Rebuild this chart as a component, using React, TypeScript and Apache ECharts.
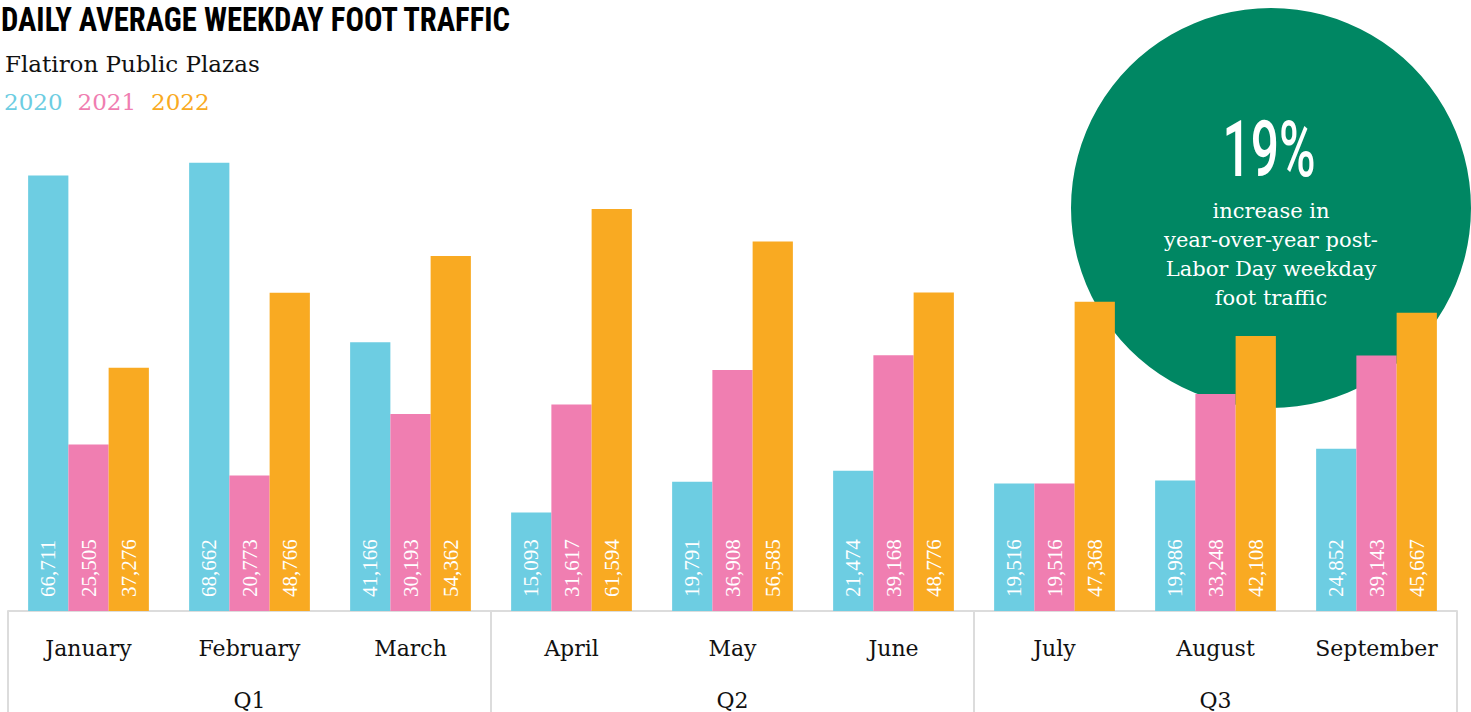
import React, { useEffect, useRef } from 'react';
import * as echarts from 'echarts';

const months = ['January', 'February', 'March', 'April', 'May', 'June', 'July', 'August', 'September'];
const quarters = ['Q1', 'Q2', 'Q3'];
const years = ['2020', '2021', '2022'];
const values2020 = [66711, 68662, 41166, 15093, 19791, 21474, 19516, 19986, 24852];
const values2021 = [25505, 20773, 30193, 31617, 36908, 39168, 19516, 33248, 39143];
const values2022 = [37276, 48766, 54362, 61594, 56585, 48776, 47368, 42108, 45667];
const seriesValues = [values2020, values2021, values2022];
const yearColors = ['#6DCDE2', '#F07EB1', '#F9AA22'];
const yMax = 70000;

const titleText = 'DAILY AVERAGE WEEKDAY FOOT TRAFFIC';
const subtitleText = 'Flatiron Public Plazas';
const bigStat = '19%';
const statText = 'increase in\nyear-over-year post-\nLabor Day weekday\nfoot traffic';

const SERIF = '"DejaVu Serif", serif';
const LABEL_SERIF = '"Liberation Serif", serif';
const NARROW = '"Liberation Sans Narrow", "Roboto Condensed", Roboto, sans-serif';

function measure(text: string, font: string): number {
  const ctx = document.createElement('canvas').getContext('2d');
  if (!ctx) return 1;
  ctx.font = font;
  return ctx.measureText(text).width || 1;
}

export default function App() {
  const ref = useRef<HTMLDivElement>(null);

  useEffect(() => {
    if (!ref.current) return;
    const chart = echarts.init(ref.current, undefined, { renderer: 'svg' });

    const titleFont = `bold 34px ${NARROW}`;
    const titleScale = 511 / measure(titleText, titleFont);
    const statFont = '500 78px Roboto';
    const statScale = 93 / measure(bigStat, statFont);

    const fmt = (n: number) => n.toLocaleString('en-US');

    chart.setOption({
      animation: false,
      grid: { left: 8, right: 14, top: 154, bottom: 101, containLabel: false },
      legend: {
        left: -1,
        top: 90,
        padding: 0,
        itemWidth: 0,
        itemHeight: 0,
        itemGap: 10,
        selectedMode: false,
        textStyle: { fontFamily: SERIF, fontSize: 23, padding: 0 },
        data: years.map((y, i) => ({ name: y, icon: 'rect', textStyle: { color: yearColors[i] } })),
      },
      xAxis: [
        {
          type: 'category',
          data: months,
          axisLine: { show: true, lineStyle: { color: '#dcdcdc', width: 2 } },
          axisTick: { show: false },
          axisLabel: { margin: 26, fontFamily: SERIF, fontSize: 22, color: '#111' },
        },
        {
          type: 'category',
          data: quarters,
          position: 'bottom',
          axisLine: { show: false },
          axisTick: { show: true, length: 120, lineStyle: { color: '#dcdcdc', width: 2 } },
          axisLabel: { margin: 78, fontFamily: SERIF, fontSize: 22, color: '#111' },
        },
      ],
      yAxis: { type: 'value', min: 0, max: yMax, show: false },
      series: years.map((y, i) => ({
        name: y,
        type: 'bar',
        xAxisIndex: 0,
        data: seriesValues[i],
        barGap: '0%',
        barCategoryGap: '25%',
        itemStyle: { color: yearColors[i] },
        z: 3,
        label: {
          show: true,
          position: 'insideBottom',
          rotate: 90,
          align: 'left',
          verticalAlign: 'middle',
          distance: 14,
          color: '#fff',
          fontFamily: LABEL_SERIF,
          fontSize: 21,
          formatter: (p: any) => fmt(p.value),
        },
      })),
      graphic: [
        {
          type: 'text',
          x: 1,
          y: 19.5,
          scaleX: titleScale,
          z: 5,
          style: {
            text: titleText,
            font: titleFont,
            fill: '#000',
            textAlign: 'left',
            textVerticalAlign: 'middle',
          },
        },
        {
          type: 'text',
          x: 5,
          y: 64,
          z: 5,
          style: {
            text: subtitleText,
            fontFamily: SERIF,
            fontSize: 23,
            fill: '#111',
            textAlign: 'left',
            textVerticalAlign: 'middle',
          },
        },
        {
          type: 'circle',
          z: 0,
          shape: { cx: 1271, cy: 208, r: 200 },
          style: { fill: '#008763' },
        },
        {
          type: 'text',
          x: 1269,
          y: 149,
          scaleX: statScale,
          z: 1,
          style: {
            text: bigStat,
            font: statFont,
            fill: '#fff',
            textAlign: 'center',
            textVerticalAlign: 'middle',
          },
        },
        {
          type: 'text',
          x: 1271,
          y: 254,
          z: 1,
          style: {
            text: statText,
            fontFamily: SERIF,
            fontSize: 21,
            lineHeight: 29,
            fill: '#fff',
            textAlign: 'center',
            textVerticalAlign: 'middle',
          },
        },
      ],
    });

    return () => chart.dispose();
  }, []);

  return (
    <div
      ref={ref}
      style={{ position: 'absolute', left: 0, top: 0, width: 1471, height: 712, background: '#fff' }}
    />
  );
}
